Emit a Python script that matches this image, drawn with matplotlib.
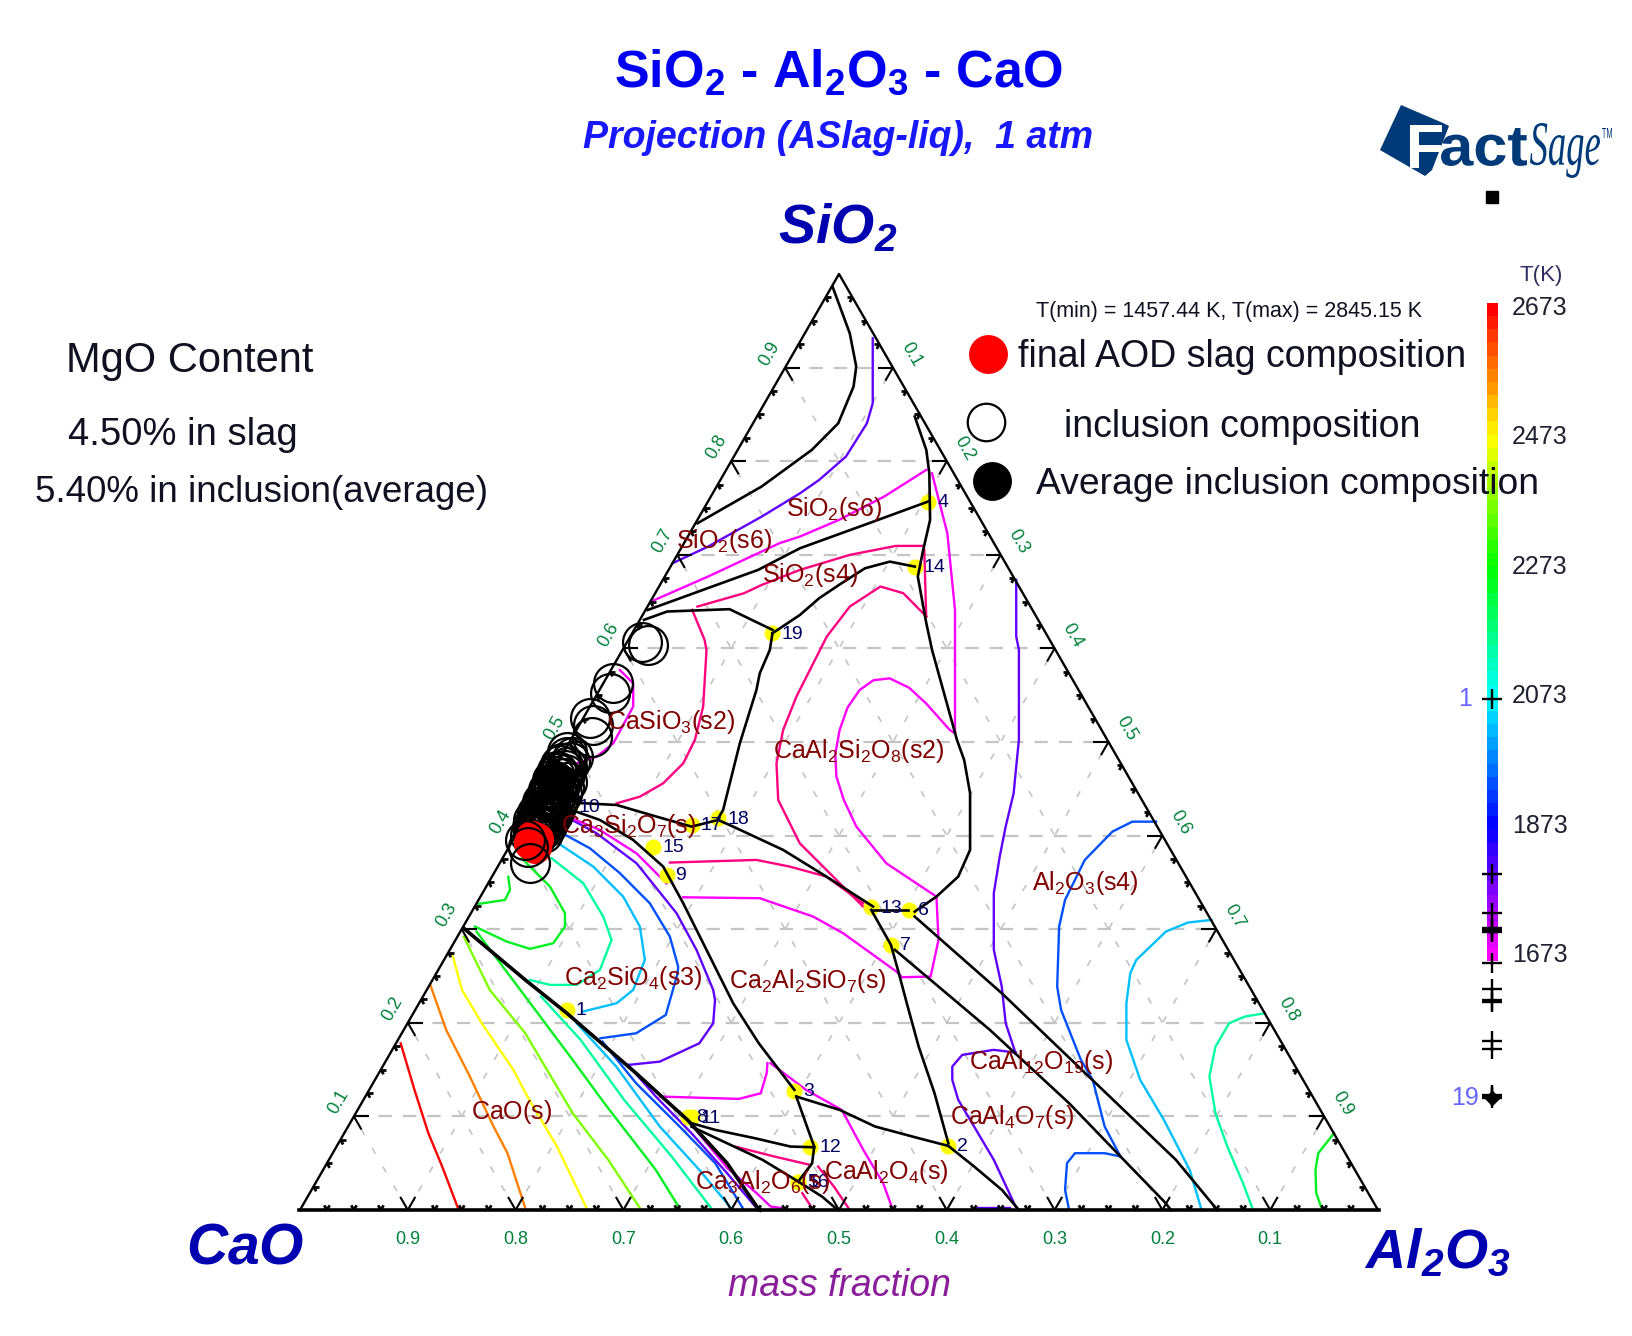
import numpy as np
import matplotlib
matplotlib.use('Agg')
import matplotlib.pyplot as plt
from matplotlib.colors import LinearSegmentedColormap
from matplotlib.patches import Polygon, PathPatch
from matplotlib.textpath import TextPath
from matplotlib.font_manager import FontProperties
from matplotlib.transforms import Affine2D

plt.rcParams['font.family'] = ['Liberation Sans', 'DejaVu Sans']
plt.rcParams['mathtext.fontset'] = 'custom'
plt.rcParams['mathtext.rm'] = 'Liberation Sans'
plt.rcParams['mathtext.it'] = 'Liberation Sans:italic'
plt.rcParams['mathtext.bf'] = 'Liberation Sans:bold'
plt.rcParams['mathtext.bfit'] = 'Liberation Sans:italic:bold'

# ---------- data: each curve is (horizontal position along the CaO-Al2O3 base, SiO2 fraction) ----------
tick_values = [round(0.1 * i, 1) for i in range(1, 10)]

# phase boundaries (black)
bd_top = [(.494,.9865),(.510,.9366),(.516,.901),(.5135,.8797),(.4993,.8405),(.4747,.812),(.4283,.773),(.3687,.7337)]
bd_right = [(.5703,.8476),(.581,.812),(.5838,.787),(.5845,.7373),(.5781,.7052),(.5731,.6767),(.581,.6269),(.5863,.5984),
            (.6,.5415),(.6094,.5023),(.6161,.4808),(.6216,.4452),(.6216,.3847),(.6106,.3562),(.5904,.3348),(.5702,.3188)]
bd_left_4 = [(.3224,.641),(.425,.6839),(.4638,.707),(.5277,.7337),(.5827,.7569)]
bd_14_19 = [(.5703,.6874),(.5472,.6927),(.5241,.6856),(.5,.6678),(.4816,.6536),(.4638,.6358),(.4383,.6162)]
bd_left_19 = [(.3191,.6305),(.3406,.6394),(.3985,.6419),(.4383,.6198)]
bd_19_18 = [(.4383,.6162),(.4358,.5983),(.4265,.5734),(.4234,.5556),(.408,.4986),(.3925,.4274),(.3879,.4185)]
bd_10_13 = [(.2535,.4352),(.2937,.4327),(.3307,.4203),(.3632,.4096),(.3879,.4167),(.4018,.4096),(.4482,.3847),(.4883,.3562),(.5316,.3242)]
bd_13_6 = [(.5316,.3206),(.564,.3206)]
bd_10_3 = [(.2473,.4292),(.2782,.4167),(.309,.3954),(.3369,.3669),(.3555,.3277),(.3771,.2779),(.4018,.2209),(.4256,.1781),(.4586,.1283)]
bd_3_16 = [(.4604,.1212),(.4714,.0856),(.477,.0678),(.4751,.05),(.4622,.0304)]
bd_3_2 = [(.4604,.1212),(.5005,.107),(.5335,.0892),(.5739,.0767),(.6014,.0685)]
bd_2_base = [(.6014,.0685),(.6253,.0465),(.651,.0216),(.667,.0)]
bd_13_2 = [(.5299,.3206),(.5482,.2832),(.5555,.253),(.5629,.2209),(.5739,.1746),(.5886,.1248),(.6014,.0714)]
bd_6_base = [(.5702,.3135),(.651,.2316),(.7317,.1426),(.8125,.0536),(.851,.0)]
bd_7_base = [(.5519,.2779),(.5996,.2316),(.64,.1924),(.7134,.1141),(.7611,.0572),(.8016,.0091),(.808,.0)]
bd_left_base = [(.152,.3009),(.209,.2458),(.2476,.2102),(.3118,.1461),(.3595,.0962),(.3962,.05),(.4237,.0037),(.427,.0)]
bd_8_12 = [(.3632,.0927),(.3852,.0856),(.4219,.0767),(.4549,.0678),(.477,.067)]
bd_8_16 = [(.3632,.0891),(.3962,.0713),(.4292,.0535),(.4622,.0304)]
bd_16_base = [(.4622,.0304),(.4842,.0144),(.4989,.0)]

# liquidus isotherms
iso_2573 = [(.0934,.1781),(.1062,.1283),(.1191,.082),(.1319,.0464),(.1466,.0019)]
iso_2473 = [(.1209,.2404),(.1356,.1924),(.1576,.1425),(.1796,.0891),(.1925,.0606),(.209,.0019)]
iso_2373 = [(.141,.2742),(.1503,.2351),(.1686,.1995),(.198,.1496),(.2127,.1176),(.2384,.0678),(.2659,.0019)]
iso_2273 = [(.152,.292),(.176,.2351),(.209,.1888),(.253,.1034),(.286,.0535),(.3154,.0019)]
iso_2173a = [(.1638,.2974),(.209,.228),(.253,.1603),(.2824,.114),(.3301,.0428),(.3521,.0019)]
iso_2173b = [(.1932,.356),(.1948,.3419),(.1901,.3313),(.1654,.327)]
iso_2173c = [(.2056,.3758),(.2319,.3455),(.2458,.3171),(.2458,.3028),(.2349,.285),(.2133,.279),(.1917,.2868),(.1623,.3028)]
iso_2173d = [(.9592,.0821),(.9446,.0607),(.942,.0429),(.9427,.018),(.9482,.0002)]
iso_2073a = [(.2237,.228),(.2604,.1817),(.3007,.1176),(.3448,.0571),(.3815,.0019)]
iso_2073b = [(.2334,.3758),(.2628,.3491),(.2813,.3135),(.289,.2886),(.2782,.2565),(.2566,.2405),(.2319,.2405),(.2133,.2458)]
iso_2073c = [(.895,.2102),(.8767,.2067),(.862,.1996),(.8492,.1746),(.8436,.1426),(.8492,.1034),(.8602,.0678),(.8748,.0287),(.884,.0002)]
iso_1973a = [(.2567,.1995),(.2934,.1532),(.3338,.0891),(.3705,.0428),(.3999,.0019)]
iso_1973b = [(.2349,.3954),(.272,.3669),(.2998,.3348),(.3153,.3028),(.3199,.2672),(.3091,.2352),(.2937,.2209),(.2628,.2121)]
iso_1973c = [(.8455,.3099),(.8235,.3071),(.8033,.2975),(.7758,.2672),(.7702,.253),(.7666,.2209),(.7666,.1817),(.7794,.139),(.8014,.0963),(.8253,.0429),(.8363,.0002)]
iso_1873a = [(.2806,.1799),(.3118,.1354),(.3522,.0891),(.3852,.05),(.4108,.0019)]
iso_1873b = [(.2349,.4078),(.2689,.3865),(.2968,.3598),(.3245,.3277),(.3431,.2921),(.3508,.2601),(.3503,.2529),(.3393,.2084),(.3118,.1888),(.2787,.1835)]
iso_1873c = [(.7941,.4149),(.7721,.4149),(.7537,.4043),(.728,.374),(.7097,.3313),(.7042,.3028),(.7024,.2387),(.706,.2138),(.7244,.1604),(.7354,.139),(.7464,.0892),(.7611,.0572)]
iso_1873d = [(.7611,.0572),(.7464,.0607),(.7189,.0607),(.7115,.05),(.7097,.0215),(.7134,.0002)]
iso_1773a = [(.3044,.155),(.3301,.1212),(.3632,.082),(.3962,.0393),(.4237,.0019)]
iso_1773b = [(.2411,.4238),(.2751,.4025),(.3122,.3704),(.3493,.3171),(.3678,.2779),(.3833,.2352),(.385,.2244),(.3833,.1995),(.3704,.1781),(.3337,.1585),(.3044,.155)]
iso_1773c = [(.3456,.691),(.3786,.7088),(.4283,.7408),(.4638,.7657),(.4816,.78),(.5064,.8049),(.5259,.8405),(.5313,.8619),(.5313,.9313)]
iso_1773d = [(.6644,.6732),(.6644,.6127),(.6669,.5984),(.6669,.5023),(.665,.4808),(.662,.4452),(.6546,.4096),(.6491,.3776),(.6436,.3384),(.6436,.2779),(.651,.2387),(.6546,.1996),(.6638,.1675)]
iso_1773e = [(.6638,.1682),(.6436,.1711),(.6143,.1657),(.6051,.1533),(.6051,.139),(.6106,.1177),(.6235,.0927),(.6436,.0536),(.6638,.0037)]
iso_1773f = [(.629,.002),(.6583,.002)]
iso_1673a = [(.3257,.6501),(.3786,.6768),(.4448,.7124),(.4638,.7195),(.5,.7373),(.5419,.7622),(.581,.7907)]
iso_1673b = [(.5863,.787),(.6005,.723),(.6076,.6411),(.6076,.5094)]
iso_1673c = [(.6076,.5094),(.6027,.5129),(.581,.541),(.565,.558),(.547,.568),(.532,.566),(.5192,.5556),(.508,.537),(.5006,.5129),(.4965,.487),(.4976,.463),(.5045,.438),(.5161,.4096),(.5439,.3704),(.5903,.3349)]
iso_1673d = [(.5904,.3348),(.5923,.2886),(.585,.2494),(.5585,.2487),(.5532,.2548),(.5038,.2957),(.476,.3135),(.4265,.3331),(.3555,.3341)]
iso_1673e = [(.2967,.5769),(.3091,.5627),(.3091,.5378),(.2906,.4986),(.2751,.4843),(.2566,.4772)]
iso_1673f = [(.2411,.4238),(.2782,.406),(.3122,.381),(.34,.349)]
iso_1673g = [(.4365,.1568),(.4695,.1283),(.5026,.1069),(.5225,.0643),(.5409,.0287),(.55,.0002)]
iso_1673h = [(.3338,.1212),(.4072,.1187),(.4274,.1247),(.4329,.1461),(.4336,.1568)]
iso_1673i = [(.3595,.0962),(.3962,.045),(.4237,.0179),(.4366,.0037),(.4476,.0019)]
iso_1573a = [(.3638,.6412),(.3753,.6091),(.3771,.5983),(.374,.5378),(.3663,.5022),(.3555,.4772),(.3369,.4559),(.3153,.4416),(.2937,.4345)]
iso_1573b = [(.3687,.6447),(.4118,.6589),(.4283,.6678),(.4638,.6839),(.51,.6999),(.5526,.7095),(.5774,.7095)]
iso_1573c = [(.5791,.7052),(.5809,.6341)]
iso_1573d = [(.581,.6341),(.5596,.659),(.5384,.6661),(.51,.6447),(.4887,.6127),(.4605,.5485),(.4482,.5129),(.442,.4773),(.4436,.4381),(.4636,.3918),(.4883,.3634),(.5223,.3242)]
iso_1573e = [(.3431,.3712),(.4234,.374),(.4543,.3669),(.4883,.3562),(.5223,.3277)]
iso_1573f = [(.4035,.0678),(.4402,.0571),(.4732,.0482)]
iso_1573g = [(.4806,.0464),(.4953,.025),(.51,.0)]
iso_1573h = [(.466,.018),(.475,.002)]

# invariant points (numbered on the plot)
point_labels = ['1','2','3','4','5','6','7','8','9','10','11','12','13','14','15','16','17','18','19']
point_x = [.2476,.6014,.4586,.5827,.4622,.5647,.5482,.3595,.34,.2504,.3632,.4733,.5299,.5703,.3276,.4622,.3632,.3879,.4383]
point_s = [.2137,.0685,.1276,.7569,.0304,.3206,.2832,.0998,.358,.431,.0991,.0678,.3234,.6874,.3883,.0304,.4114,.4185,.6162]

# inclusion compositions (open circles)
inclusion_x = [.3224,.3174,.2906,.2875,.2689,.2720,.2705,.2473,.2535,.2473,.2427,.2458,.2380,.2427,.2334,.2396,.2349,.2303,.2380,
               .2319,.2272,.2349,.2241,.2303,.2226,.2272,.2195,.2241,.2164,.2210,.2149,.2180,.2133,
               .2504,.2411,.2479,.2386,.2458,.2365,.2436,.2473,.2343,.2411,.2448,.2319,.2386,.2427,.2303,.2365,.2405,.2281,.2343,.2380,
               .2263,.2319,.2365,.2241,.2303,.2343,.2226,.2288,.2319,.2201,.2263,.2303,.2189,.2241,.2281,.2170,.2226,.2257,.2158,.2201]
inclusion_s = [.6037,.6073,.5627,.5520,.5253,.5182,.5057,.4897,.4843,.4843,.4772,.4701,.4666,.4612,.4595,.4541,.4505,.4488,.4452,
               .4416,.4399,.4363,.4363,.4310,.4274,.4238,.4238,.4185,.4167,.4132,.4096,.4043,.4007,
               .4790,.4755,.4730,.4694,.4659,.4637,.4612,.4577,.4566,.4541,.4516,.4505,.4470,.4445,.4445,.4409,.4388,.4381,.4352,.4338,
               .4327,.4303,.4281,.4274,.4246,.4231,.4221,.4196,.4185,.4175,.4149,.4139,.4125,.4096,.4089,.4078,.4053,.4032,.4025,.4007]
# the inclusions lying over the slag point
inclusion_low_x = [.2087,.2118,.2133]
inclusion_low_s = [.3954,.3883,.3705]
# final AOD slag composition (red)
slag_x = [.2149,.2180,.2164,.2195,.2133]
slag_s = [.3985,.3883,.3954,.3960,.3920]
# average inclusion composition (black)
average_x = [.2365]
average_s = [.4594]

# colour-bar: temperature scale and invariant-point temperatures
bar_ticks = [2673, 2473, 2273, 2073, 1873, 1673]
invariant_T = [2069, 1798, 1738, 1715, 1712, 1708, 1660, 1620, 1603, 1600, 1540, 1528, 1457, 1455, 1452]
T_min, T_max = 1457.44, 2845.15

phase_labels = [r'SiO_2(s6)', r'SiO_2(s6)', r'SiO_2(s4)', r'CaSiO_3(s2)', r'CaAl_2Si_2O_8(s2)', r'Ca_3Si_2O_7(s)', r'Al_2O_3(s4)',
                r'Ca_2SiO_4(s3)', r'Ca_2Al_2SiO_7(s)', r'CaAl_{12}O_{19}(s)', r'CaAl_4O_7(s)', r'CaO(s)', r'CaAl_2O_4(s)', r'Ca_3Al_2O_6(s)']
phase_px = [(834,509),(724,541),(810,575),(671,722),(859,751),(629,826),(1085,883),
            (633,978),(808,981),(1041,1062),(1012,1117),(512,1112),(886,1172),(763,1182)]

# ---------- figure ----------
W, H = 1632, 1336
X0, XW, Y0, YH = 300.0, 1078.0, 1210.0, 936.0
fig = plt.figure(figsize=(W/100, H/100), dpi=100, facecolor='white')
ax = fig.add_axes([0, 0, 1, 1])
ax.set_xlim(-X0/XW, (W-X0)/XW)
ax.set_ylim((Y0-H)/YH, Y0/YH)
ax.axis('off')
ov = fig.add_axes([0, 0, 1, 1], facecolor='none', zorder=5)
ov.set_xlim(0, W); ov.set_ylim(H, 0); ov.axis('off')

# grid
GRID = '#C4C4C4'
for k in tick_values:
    ax.plot([k/2, 1-k/2], [k, k], color=GRID, lw=1.6, ls=(0, (6, 5)), zorder=1)
    ax.plot([k, (1+k)/2], [0, 1-k], color=GRID, lw=1.2, ls=(0, (4, 9)), zorder=1)
    ax.plot([k, k/2], [0, k], color=GRID, lw=1.2, ls=(0, (4, 9)), zorder=1)

# isotherms
COL = {2573:'#FF0000', 2473:'#FF8000', 2373:'#FFFF00', 2273:'#80FF00', 2173:'#00F020', 2073:'#00FFA0',
       1973:'#00BFFF', 1873:'#0050FF', 1773:'#6000FF', 1673:'#FF00FF', 1573:'#FF0080'}
iso_sets = {
    2573:[iso_2573], 2473:[iso_2473], 2373:[iso_2373], 2273:[iso_2273],
    2173:[iso_2173a, iso_2173b, iso_2173c, iso_2173d],
    2073:[iso_2073a, iso_2073b, iso_2073c],
    1973:[iso_1973a, iso_1973b, iso_1973c],
    1873:[iso_1873a, iso_1873b, iso_1873c, iso_1873d],
    1773:[iso_1773a, iso_1773b, iso_1773c, iso_1773d, iso_1773e, iso_1773f],
    1673:[iso_1673a, iso_1673b, iso_1673c, iso_1673d, iso_1673e, iso_1673f, iso_1673g, iso_1673h, iso_1673i],
    1573:[iso_1573a, iso_1573b, iso_1573c, iso_1573d, iso_1573e, iso_1573f, iso_1573g, iso_1573h],
}
for T, curves in iso_sets.items():
    for c in curves:
        xs, ss = zip(*c)
        ax.plot(xs, ss, color=COL[T], lw=1.7, zorder=2, solid_joinstyle='round')

# invariant points under the black boundaries
ax.plot(point_x, point_s, 'o', color='#FFFF00', ms=11.5, mec='none', zorder=3)

boundaries = [bd_top, bd_right, bd_left_4, bd_14_19, bd_left_19, bd_19_18, bd_10_13, bd_13_6, bd_10_3, bd_3_16,
              bd_3_2, bd_2_base, bd_13_2, bd_6_base, bd_7_base, bd_left_base, bd_8_12, bd_8_16, bd_16_base]
thick = {id(bd_left_base)}
for b in boundaries:
    xs, ss = zip(*b)
    ax.plot(xs, ss, color='black', lw=2.6 if id(b) in thick else 1.9, zorder=4)

# triangle outline and ticks
ax.plot([0, .5, 1], [0, 1, 0], color='black', lw=1.7, zorder=6)
ax.plot([-.001, 1.001], [0, 0], color='black', lw=2.6, zorder=6)
def stroke(x, s, dx, ds, lw):
    ax.plot([x, x+dx], [s, s+ds], color='black', lw=lw, zorder=6, solid_capstyle='butt')
for i in range(1, 40):
    k = i * 0.025
    major = i % 4 == 0
    L = 0.014 if major else 0.005
    lw = 1.5 if major else 2.0
    stroke(k, 0, L*.5, L, lw)
    stroke(k, 0, -L*.5, L, lw)
    stroke(k/2, k, L, 0, lw)
    stroke(k/2, k, L*.5, -L, lw)
    stroke(1-k/2, k, -L, 0, lw)
    stroke(1-k/2, k, -L*.5, -L, lw)

TICKC = '#00803C'
for k in tick_values:
    ax.annotate(f'{k:.1f}', (k/2, k), xytext=(-15, 14), textcoords='offset pixels', color=TICKC, fontsize=13,
                rotation=60, ha='center', va='center', zorder=7)
    ax.annotate(f'{1-k:.1f}', (1-k/2, k), xytext=(18, 13), textcoords='offset pixels', color=TICKC, fontsize=13,
                rotation=-60, ha='center', va='center', zorder=7)
    ax.annotate(f'{1-k:.1f}', (k, 0), xytext=(0, -30), textcoords='offset pixels', color=TICKC, fontsize=13,
                ha='center', va='center', zorder=7)

# invariant point numbers
for lab, x, s in zip(point_labels, point_x, point_s):
    ax.annotate(lab, (x, s), xytext=(9, -1), textcoords='offset pixels', color='#000060', fontsize=14,
                ha='left', va='center', zorder=7)

# inclusions, slag, and the inclusions over the slag
MS = 28
ax.plot(inclusion_x, inclusion_s, 'o', mfc='none', mec='black', ms=MS, mew=1.6, zorder=8)
ax.plot(average_x, average_s, 'o', color='black', ms=MS, mec='none', zorder=8)
ax.plot(slag_x, slag_s, 'o', color='#FF0000', ms=MS*.85, mec='none', zorder=9)
ax.plot(inclusion_low_x, inclusion_low_s, 'o', mfc='none', mec='black', ms=MS, mew=1.6, zorder=10)

# phase labels
for lab, (px, py) in zip(phase_labels, phase_px):
    ov.text(px, py, '$\\mathrm{' + lab + '}$', color='#800000', fontsize=18, ha='center', va='center')

# titles
BLUE = '#0000F0'
ov.text(838, 73, r'$\mathbf{SiO_2}$ - $\mathbf{Al_2O_3}$ - $\mathbf{CaO}$', color=BLUE, fontsize=37.5, fontweight='bold', ha='center', va='center')
ov.text(838, 138, 'Projection (ASlag-liq),  1 atm', color='#1818FF', fontsize=27, fontweight='bold', fontstyle='italic', ha='center', va='center')
DARK = '#0000B0'
ov.text(838, 229, r'$\mathbfit{SiO_2}$', color=DARK, fontsize=40, ha='center', va='center')
ov.text(245, 1249, r'$\mathbfit{CaO}$', color=DARK, fontsize=41, ha='center', va='center')
ov.text(1438, 1254, r'$\mathbfit{Al_2O_3}$', color=DARK, fontsize=40, ha='center', va='center')
ov.text(840, 1286, 'mass fraction', color='#8A1E9A', fontsize=27, fontstyle='italic', ha='center', va='center')

# notes
NOTE = '#101020'
ov.text(66, 361, 'MgO Content', color=NOTE, fontsize=30, ha='left', va='center')
ov.text(68, 435, '4.50% in slag', color=NOTE, fontsize=27.5, ha='left', va='center')
ov.text(35, 492, '5.40% in inclusion(average)', color=NOTE, fontsize=26.5, ha='left', va='center')

# legend
ov.text(1036, 311, f'T(min) = {T_min:.2f} K, T(max) = {T_max:.2f} K', color='#101020', fontsize=15.5, ha='left', va='center')
ov.plot([988], [354], 'o', color='#FF0000', ms=28, mec='none')
ov.plot([986], [422], 'o', mfc='white', mec='black', ms=27, mew=1.6)
ov.plot([992], [481], 'o', color='black', ms=28, mec='none')
ov.text(1018, 357, 'final AOD slag composition', color=NOTE, fontsize=27, ha='left', va='center')
ov.text(1064, 427, 'inclusion composition', color=NOTE, fontsize=27, ha='left', va='center')
ov.text(1036, 484, 'Average inclusion composition', color=NOTE, fontsize=26.8, ha='left', va='center')

# colour bar on a temperature axis
CB_T = lambda y: 1673 + (955 - y) / 0.647
cb = fig.add_axes([1470/W, 1-1110/H, 45/W, 930/H], facecolor='none', zorder=4)
cb.set_xlim(1470, 1515); cb.set_ylim(CB_T(1110), CB_T(180)); cb.axis('off')
cmap = LinearSegmentedColormap.from_list('fs', [(0, '#FF00FF'), (.2, '#0000FF'), (.4, '#00FFFF'), (.6, '#00FF00'), (.8, '#FFFF00'), (1, '#FF0000')])
edges = np.linspace(CB_T(961), CB_T(303), 51)
vals = ((edges[:-1] + edges[1:]) / 2 - 1673) / 1000
cb.pcolormesh([1487, 1498], edges, vals[:, None], cmap=cmap, vmin=0, vmax=1, shading='flat')
cb.plot([1492.5]*len(invariant_T), invariant_T, '+', color='black', ms=15, mew=1.7, clip_on=False)
cb.plot([1492.5], [T_min - 5], 'D', color='black', ms=7)
cb.plot([1492.5], [T_max], 's', color='black', ms=8)
for t in bar_ticks:
    cb.text(1540, t, str(t), color='#202030', fontsize=18, ha='center', va='center', clip_on=False)
cb.text(1541, CB_T(275), 'T(K)', color='#303060', fontsize=16, ha='center', va='center', clip_on=False)
cb.text(1465, invariant_T[0], '1', color='#6666FF', fontsize=18, ha='center', va='center', clip_on=False)
cb.text(1465, T_min - 5, '19', color='#6666FF', fontsize=18, ha='center', va='center', clip_on=False)

# FactSage logo: text shapes fitted into boxes of the overlay
LOGO = '#003A78'
ov.add_patch(Polygon([(1401, 105), (1443, 123), (1449, 126), (1432, 170), (1425, 176), (1380, 150)], closed=True, color=LOGO, lw=0))
def fitted(txt, box, color, **font):
    x0, x1, y0, y1 = box
    tp = TextPath((0, 0), txt, size=10, prop=FontProperties(**font))
    e = tp.get_extents()
    tr = Affine2D().translate(-e.x0, -e.y1).scale((x1-x0)/e.width, -(y1-y0)/e.height).translate(x0, y0)
    ov.add_patch(PathPatch(tp, transform=tr + ov.transData, facecolor=color, edgecolor='none', lw=0))
fitted('F', (1410, 1442, 125, 168), 'white', family='Liberation Sans', weight='bold')
fitted('act', (1441, 1527, 128, 166), LOGO, family='Liberation Sans', weight='bold')
fitted('Sage', (1530, 1600, 123, 178), LOGO, family='Liberation Serif', style='italic')
fitted('TM', (1602, 1612, 128, 138), LOGO, family='Liberation Sans')

fig.savefig('out.png', dpi=100, facecolor='white')
